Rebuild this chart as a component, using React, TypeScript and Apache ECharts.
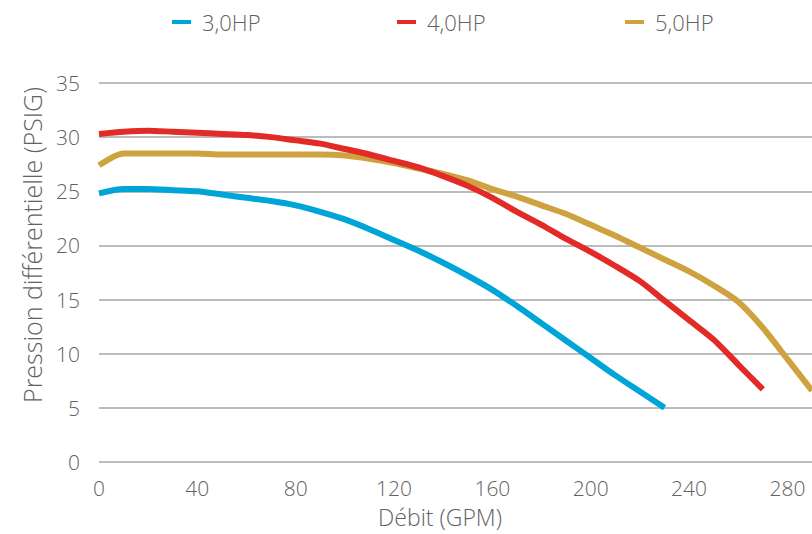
import React, { useEffect, useRef } from "react";
import * as echarts from "echarts";

const flowGPM = [0, 10, 20, 30, 40, 50, 60, 70, 80, 90, 100, 110, 120, 130, 140, 150, 160, 170, 180, 190, 200, 210, 220, 230, 240, 250, 260, 270, 280, 290];

const hp3 = [24.8, 25.2, 25.2, 25.1, 25.0, 24.7, 24.4, 24.1, 23.7, 23.1, 22.4, 21.5, 20.5, 19.5, 18.4, 17.2, 15.9, 14.4, 12.8, 11.2, 9.6, 8.0, 6.5, 5.0];
const hp4 = [30.3, 30.5, 30.6, 30.5, 30.4, 30.3, 30.2, 30.0, 29.7, 29.4, 28.9, 28.4, 27.8, 27.2, 26.4, 25.5, 24.4, 23.1, 21.9, 20.6, 19.4, 18.1, 16.7, 14.9, 13.1, 11.3, 9.0, 6.7];
const hp5 = [27.4, 28.5, 28.5, 28.5, 28.5, 28.4, 28.4, 28.4, 28.4, 28.4, 28.3, 28.0, 27.6, 27.1, 26.6, 26.0, 25.2, 24.5, 23.7, 22.9, 21.9, 20.9, 19.8, 18.7, 17.6, 16.3, 14.8, 12.4, 9.5, 6.6];

const seriesNames = ["3,0HP", "4,0HP", "5,0HP"];
const seriesColors = ["#00A5D7", "#E22B27", "#CEA23F"];
const seriesValues = [hp3, hp4, hp5];

const xTitle = "Débit (GPM)";
const yTitle = "Pression différentielle (PSIG)";

const FONT = "'Open Sans', sans-serif";
const TEXT = "#626262";

export default function App() {
  const ref = useRef<HTMLDivElement>(null);
  useEffect(() => {
    if (!ref.current) return;
    const chart = echarts.init(ref.current, undefined, { renderer: "svg" });
    const legendLefts = [172, 397, 625];
    chart.setOption({
      animation: false,
      backgroundColor: "#ffffff",
      textStyle: { fontFamily: FONT, color: TEXT },
      grid: { left: 99, right: 0, top: 83, bottom: 72, containLabel: false },
      legend: seriesNames.map((n, i) => ({
        data: [n],
        left: legendLefts[i],
        top: 11,
        padding: 0,
        icon: "rect",
        itemWidth: 19,
        itemHeight: 4,
        textStyle: { fontFamily: FONT, fontSize: 22, fontWeight: 300, color: TEXT, padding: [0, 0, 0, 6] },
      })),
      xAxis: {
        type: "value",
        min: 0,
        max: 290,
        interval: 40,
        axisLine: { show: false },
        axisTick: { show: false },
        splitLine: { show: false },
        axisLabel: {
          showMaxLabel: false,
          margin: 15,
          fontFamily: FONT,
          fontSize: 21,
          fontWeight: 300,
          lineHeight: 21,
          color: TEXT,
          formatter: (v: number) => (v % 40 === 0 ? String(v) : ""),
        },
      },
      yAxis: {
        type: "value",
        min: 0,
        max: 35,
        interval: 5,
        axisLine: { show: false },
        axisTick: { show: false },
        splitLine: { show: true, lineStyle: { color: "#BBBBBB", width: 2 } },
        axisLabel: { margin: 19, fontFamily: FONT, fontSize: 21, fontWeight: 300, color: TEXT },
      },
      graphic: [
        {
          type: "text",
          x: 440,
          y: 517,
          style: {
            text: xTitle,
            fontFamily: FONT,
            fontSize: 23,
            lineHeight: 23,
            fontWeight: 300,
            fill: TEXT,
            textAlign: "center",
            textVerticalAlign: "middle",
          },
        },
        {
          type: "text",
          x: 32,
          y: 245,
          rotation: Math.PI / 2,
          style: {
            text: yTitle,
            fontFamily: FONT,
            fontSize: 25,
            fontWeight: 300,
            fill: TEXT,
            textAlign: "center",
            textVerticalAlign: "middle",
          },
        },
      ],
      series: seriesNames.map((n, i) => ({
        name: n,
        type: "line",
        data: seriesValues[i].map((v, k) => [flowGPM[k], v]),
        showSymbol: false,
        symbol: "none",
        smooth: 0.25,
        z: i === 1 ? 4 : i === 2 ? 3 : 2,
        color: seriesColors[i],
        lineStyle: { color: seriesColors[i], width: 6, cap: "butt", join: "round" },
      })),
    });
    return () => chart.dispose();
  }, []);
  return <div ref={ref} style={{ position: "absolute", left: 0, top: 0, width: 812, height: 534 }} />;
}
